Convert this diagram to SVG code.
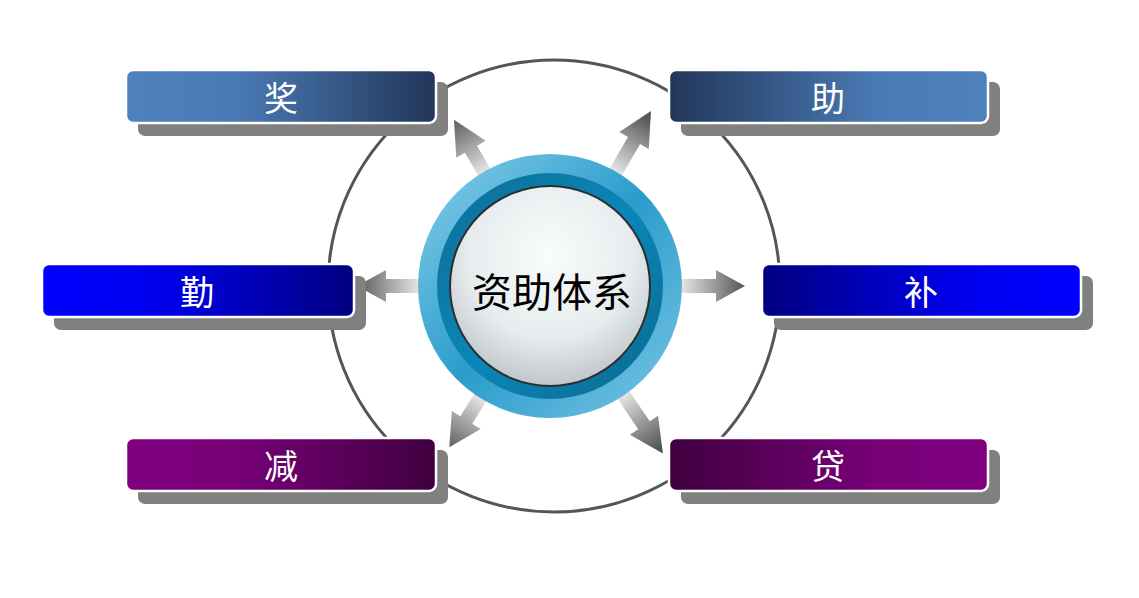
<svg xmlns="http://www.w3.org/2000/svg" width="1139" height="598" viewBox="0 0 1139 598">
<defs>
<style>
.shadow{fill:#808080}
.box{stroke:#ffffff;stroke-width:2.5}
.lbl{font-family:"Noto Sans CJK SC","Liberation Serif",serif;font-size:34px;fill:#ffffff;text-anchor:middle;dominant-baseline:central}
.arrow{fill:url(#arrowGrad)}
</style>
<linearGradient id="gJiang" x1="0" x2="1" y1="0" y2="0"><stop offset="0" stop-color="#4f81bd"/><stop offset="0.35" stop-color="#4a7ab4"/><stop offset="1" stop-color="#22375a"/></linearGradient>
<linearGradient id="gZhu" x1="0" x2="1" y1="0" y2="0"><stop offset="0" stop-color="#22375a"/><stop offset="0.65" stop-color="#4a7ab4"/><stop offset="1" stop-color="#4f81bd"/></linearGradient>
<linearGradient id="gQin" x1="0" x2="1" y1="0" y2="0"><stop offset="0" stop-color="#0000ff"/><stop offset="0.35" stop-color="#0000f0"/><stop offset="1" stop-color="#000080"/></linearGradient>
<linearGradient id="gBu" x1="0" x2="1" y1="0" y2="0"><stop offset="0" stop-color="#000080"/><stop offset="0.65" stop-color="#0000f0"/><stop offset="1" stop-color="#0000ff"/></linearGradient>
<linearGradient id="gJian" x1="0" x2="1" y1="0" y2="0"><stop offset="0" stop-color="#800080"/><stop offset="0.35" stop-color="#780078"/><stop offset="1" stop-color="#3f003f"/></linearGradient>
<linearGradient id="gDai" x1="0" x2="1" y1="0" y2="0"><stop offset="0" stop-color="#3f003f"/><stop offset="0.65" stop-color="#780078"/><stop offset="1" stop-color="#800080"/></linearGradient>
<linearGradient id="arrowGrad" x1="125" x2="195" y1="0" y2="0" gradientUnits="userSpaceOnUse"><stop offset="0" stop-color="#f4f4f4"/><stop offset="1" stop-color="#555555"/></linearGradient>
<linearGradient id="ringOuter" x1="0" y1="0" x2="1" y2="1"><stop offset="0" stop-color="#8ad0ea"/><stop offset="0.5" stop-color="#2a9ccc"/><stop offset="1" stop-color="#7cc6e4"/></linearGradient>
<linearGradient id="ringInner" x1="0" y1="0" x2="1" y2="1"><stop offset="0" stop-color="#0c6e94"/><stop offset="0.5" stop-color="#0b86b8"/><stop offset="1" stop-color="#0a6a8e"/></linearGradient>
<radialGradient id="disk" cx="0.5" cy="0.35" r="0.7"><stop offset="0" stop-color="#fafcfc"/><stop offset="0.6" stop-color="#e6ecee"/><stop offset="1" stop-color="#b8bec2"/></radialGradient>
</defs>

<g id="outer-circle">
<circle cx="554" cy="286" r="226" fill="none" stroke="#555555" stroke-width="3"/>
</g>

<g id="connectors">
<g transform="translate(550,286)">
<polygon class="arrow" points="120,-7 164,-7 164,-16 193,0 164,16 164,7 120,7" transform="rotate(180)"/>
<polygon class="arrow" points="120,-7 166,-7 166,-16 195,0 166,16 166,7 120,7" transform="rotate(0)"/>
<polygon class="arrow" points="120,-7 158,-7 158,-17 192,0 158,17 158,7 120,7" transform="rotate(-120)"/>
<polygon class="arrow" points="120,-7 168,-7 168,-17 202,0 168,17 168,7 120,7" transform="rotate(-60)"/>
<polygon class="arrow" points="120,-7 158,-7 158,-17 190,0 158,17 158,7 120,7" transform="rotate(122)"/>
<polygon class="arrow" points="120,-7 168,-7 168,-17 202,0 168,17 168,7 120,7" transform="rotate(56)"/>
</g>
</g>

<g id="center">
<circle cx="550" cy="286" r="132" fill="url(#ringOuter)"/>
<circle cx="550" cy="286" r="113" fill="url(#ringInner)"/>
<circle cx="550" cy="286" r="101" fill="#2a2e30"/>
<circle cx="550" cy="286" r="99" fill="url(#disk)"/>
<text x="552" y="290" font-family="'Noto Sans CJK SC','Liberation Serif',serif" font-size="40" fill="#000000" text-anchor="middle" dominant-baseline="central">资助体系</text>
</g>

<g id="node-jiang">
<rect class="shadow" x="138" y="82" width="310" height="54" rx="7"/>
<rect class="box" x="126" y="70" width="310" height="53" rx="7" fill="url(#gJiang)"/>
<text class="lbl" x="281" y="96">奖</text>
</g>
<g id="node-zhu">
<rect class="shadow" x="681" y="82" width="319" height="54" rx="7"/>
<rect class="box" x="669" y="70" width="319" height="53" rx="7" fill="url(#gZhu)"/>
<text class="lbl" x="828" y="96">助</text>
</g>
<g id="node-qin">
<rect class="shadow" x="54" y="276" width="312" height="54" rx="7"/>
<rect class="box" x="42" y="264" width="312" height="53" rx="7" fill="url(#gQin)"/>
<text class="lbl" x="197" y="290">勤</text>
</g>
<g id="node-bu">
<rect class="shadow" x="774" y="276" width="319" height="54" rx="7"/>
<rect class="box" x="762" y="264" width="319" height="53" rx="7" fill="url(#gBu)"/>
<text class="lbl" x="921" y="290">补</text>
</g>
<g id="node-jian">
<rect class="shadow" x="138" y="450" width="310" height="54" rx="7"/>
<rect class="box" x="126" y="438" width="310" height="53" rx="7" fill="url(#gJian)"/>
<text class="lbl" x="281" y="464">减</text>
</g>
<g id="node-dai">
<rect class="shadow" x="681" y="450" width="319" height="54" rx="7"/>
<rect class="box" x="669" y="438" width="319" height="53" rx="7" fill="url(#gDai)"/>
<text class="lbl" x="828" y="464">贷</text>
</g>
</svg>
